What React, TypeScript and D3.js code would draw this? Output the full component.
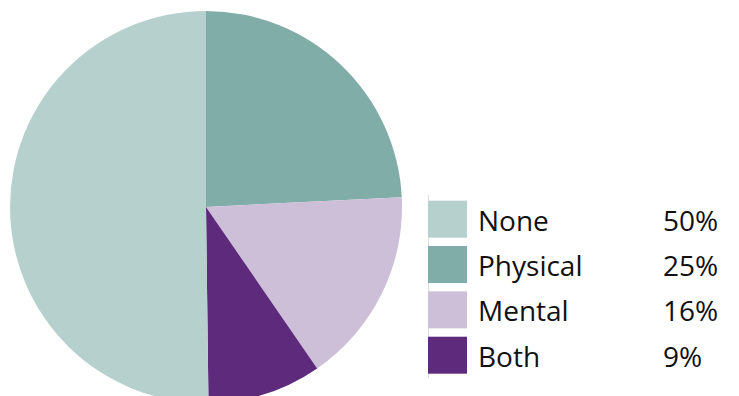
import React from "react";
import * as d3 from "d3";

const sliceCategories = ["Physical", "Mental", "Both", "None"];
const sliceValues = [24.2, 16.2, 9.4, 50.2];
const sliceColors = ["#80ada8", "#cdbfd7", "#5e2a7c", "#b6d0cd"];

const legendCategories = ["None", "Physical", "Mental", "Both"];
const legendLabels = ["50%", "25%", "16%", "9%"];

export default function App() {
  const width = 739;
  const height = 396;
  const cx = 206;
  const cy = 207;
  const r = 196;

  const pie = d3
    .pie<number>()
    .sort(null)
    .startAngle(0)
    .endAngle(2 * Math.PI)
    .value((d) => d);
  const arcs = pie(sliceValues);
  const arc = d3.arc<d3.PieArcDatum<number>>().innerRadius(0).outerRadius(r);

  const colorOf = (cat: string) => sliceColors[sliceCategories.indexOf(cat)];

  const rowY = d3
    .scaleBand<string>()
    .domain(legendCategories)
    .range([200.7, 373.7])
    .paddingInner(0.184)
    .paddingOuter(0);

  const font = "'Open Sans', sans-serif";

  return (
    <svg
      width={width}
      height={height}
      style={{ position: "absolute", left: 0, top: 0 }}
    >
      <rect width={width} height={height} fill="#ffffff" />
      <g transform={`translate(${cx},${cy})`}>
        {arcs.map((a, i) => (
          <path key={sliceCategories[i]} d={arc(a) || ""} fill={sliceColors[i]} />
        ))}
      </g>
      <line x1={428.5} x2={428.5} y1={195} y2={378} stroke="#dcdcdc" strokeWidth={1} />
      {legendCategories.map((cat, i) => {
        const y = rowY(cat)!;
        const h = rowY.bandwidth();
        return (
          <g key={cat}>
            <rect x={428} y={y} width={39} height={h} fill={colorOf(cat)} />
            <text
              x={478}
              y={y + h / 2 + 11.5}
              fontFamily={font}
              fontSize={28}
              fill="#111"
            >
              {cat}
            </text>
            <text
              x={663}
              y={y + h / 2 + 11.5}
              fontFamily={font}
              fontSize={28}
              fill="#111"
            >
              {legendLabels[i]}
            </text>
          </g>
        );
      })}
    </svg>
  );
}
